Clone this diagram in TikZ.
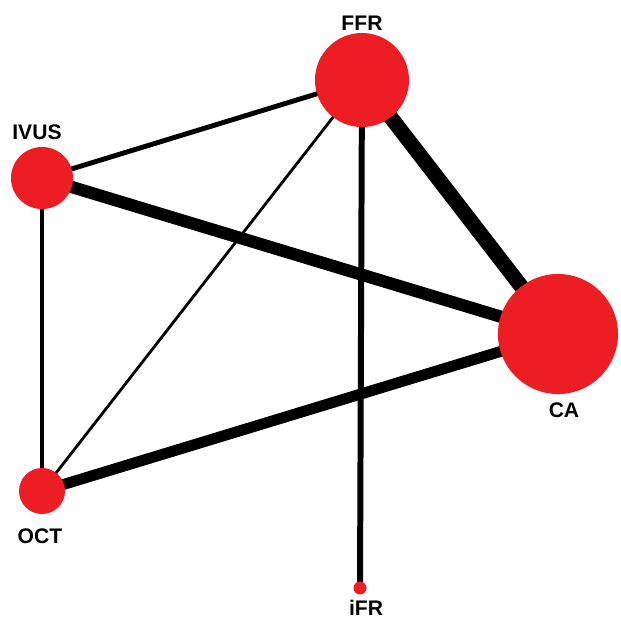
\documentclass[tikz,border=0pt]{standalone}
\usepackage{fontspec}
\setmainfont{Liberation Sans}
\usetikzlibrary{backgrounds}
\definecolor{nodered}{RGB}{236,30,36}

\tikzset{
  trial/.style={circle, fill=nodered, inner sep=0pt},
  tag/.style={font=\fontsize{6pt}{7pt}\selectfont\bfseries, inner sep=0pt},
}

\begin{document}
\begin{tikzpicture}[x=0.01cm, y=-0.01cm]
    \useasboundingbox (0,0) rectangle (621,623);

    % Circulos (tratamientos)
    \node[trial, minimum size=0.94cm] (ffr)  at (362,80)  {};
    \node[trial, minimum size=0.62cm] (ivus) at (42,178)  {};
    \node[trial, minimum size=1.20cm] (ca)   at (558,334) {};
    \node[trial, minimum size=0.46cm] (oct)  at (42,491)  {};
    \node[trial, minimum size=0.13cm] (ifr)  at (360,588) {};

    % Etiquetas
    \node[tag] (ffrlab)  at (362,23)  {FFR};
    \node[tag] (ivuslab) at (37,132)  {IVUS};
    \node[tag] (calab)   at (564,410) {CA};
    \node[tag] (octlab)  at (40,536)  {OCT};
    \node[tag] (ifrlab)  at (366,608) {iFR};

    % Lineas (comparaciones)
    \begin{scope}[on background layer]
        \draw[black, line width=4.3pt] (ffr.center) -- (ca.center);
        \draw[black, line width=3.5pt] (ivus.center) -- (ca.center);
        \draw[black, line width=3.1pt] (oct.center) -- (ca.center);
        \draw[black, line width=1.7pt] (ffr.center) -- (ifr.center);
        \draw[black, line width=1.4pt] (ffr.center) -- (ivus.center);
        \draw[black, line width=0.9pt] (ivus.center) -- (oct.center);
        \draw[black, line width=0.8pt] (ffr.center) -- (oct.center);
    \end{scope}
\end{tikzpicture}
\end{document}
